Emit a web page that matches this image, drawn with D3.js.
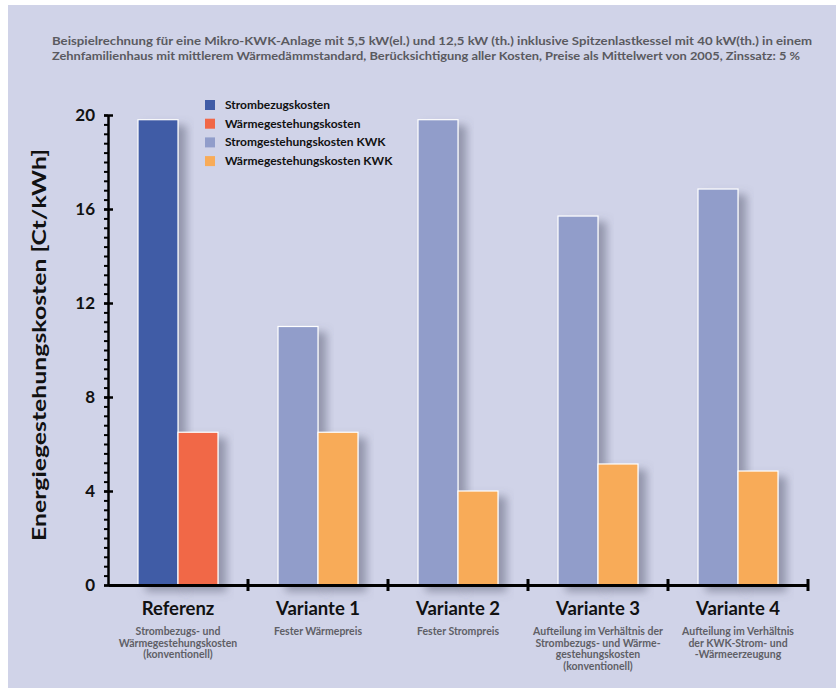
<!DOCTYPE html>
<html>
<head>
<meta charset="utf-8">
<script src="https://cdn.jsdelivr.net/npm/d3@7"></script>
<style>
  body { margin: 0; background: #fff; }
  text { font-family: Lato, "Open Sans", sans-serif; }
</style>
</head>
<body>
<div id="chart"></div>
<script>
const categories = ["Referenz", "Variante 1", "Variante 2", "Variante 3", "Variante 4"];
const subLabels = [
  ["Strombezugs- und", "Wärmegestehungskosten", "(konventionell)"],
  ["Fester Wärmepreis"],
  ["Fester Strompreis"],
  ["Aufteilung im Verhältnis der", "Strombezugs- und Wärme-", "gestehungskosten", "(konventionell)"],
  ["Aufteilung im Verhältnis", "der KWK-Strom- und", "-Wärmeerzeugung"]
];
const stromValues = [19.8, 11.0, 19.8, 15.7, 16.85];
const waermeValues = [6.5, 6.5, 4.0, 5.15, 4.85];
const stromSeries = ["Strombezugskosten", "Stromgestehungskosten KWK", "Stromgestehungskosten KWK", "Stromgestehungskosten KWK", "Stromgestehungskosten KWK"];
const waermeSeries = ["Wärmegestehungskosten", "Wärmegestehungskosten KWK", "Wärmegestehungskosten KWK", "Wärmegestehungskosten KWK", "Wärmegestehungskosten KWK"];
const seriesNames = ["Strombezugskosten", "Wärmegestehungskosten", "Stromgestehungskosten KWK", "Wärmegestehungskosten KWK"];
const seriesColors = ["#3f5ba6", "#f16747", "#919dca", "#f8ab58"];
const yTicks = [0, 4, 8, 12, 16, 20];
const titleLines = [
  "Beispielrechnung für eine Mikro-KWK-Anlage mit 5,5 kW(el.) und 12,5 kW (th.) inklusive Spitzenlastkessel mit 40 kW(th.) in einem",
  "Zehnfamilienhaus mit mittlerem Wärmedämmstandard, Berücksichtigung aller Kosten, Preise als Mittelwert von 2005, Zinssatz: 5 %"
];

const W = 836, H = 688;
const margin = { top: 115, right: 28, bottom: 103, left: 108 };
const width = W - margin.left - margin.right,
      height = H - margin.top - margin.bottom;

const svg = d3.select("#chart").append("svg")
  .attr("width", W).attr("height", H);

// background panel
svg.append("rect").attr("x", 8).attr("y", 5).attr("width", W - 8).attr("height", H - 5)
  .attr("fill", "#d0d3e8");

const defs = svg.append("defs");
const f = defs.append("filter").attr("id", "shadow")
  .attr("x", "-20%").attr("y", "-10%").attr("width", "160%").attr("height", "130%");
f.append("feDropShadow").attr("dx", 8).attr("dy", 6).attr("stdDeviation", 4)
  .attr("flood-color", "#555a70").attr("flood-opacity", 0.5);

// title
svg.append("g").selectAll("text").data(titleLines).join("text")
  .attr("x", 52).attr("y", (d, i) => 45 + i * 14.5)
  .attr("font-size", 11).attr("font-weight", 700).attr("fill", "#5a5a60")
  .attr("textLength", (d, i) => i === 0 ? 760 : 748)
  .attr("lengthAdjust", "spacingAndGlyphs")
  .text(d => d);

const g = svg.append("g").attr("transform", `translate(${margin.left},${margin.top})`);

const x = d3.scaleBand().domain(categories).range([0, width]);
const bw = x.bandwidth();
const x1 = d3.scaleBand().domain(["strom", "waerme"]).range([(bw - 80) / 2, (bw + 80) / 2]);
const y = d3.scaleLinear().domain([0, 20]).range([height, 0]);
const color = d3.scaleOrdinal().domain(seriesNames).range(seriesColors);

const barData = [];
categories.forEach((c, i) => {
  barData.push({ cat: c, key: "strom", value: stromValues[i], series: stromSeries[i] });
  barData.push({ cat: c, key: "waerme", value: waermeValues[i], series: waermeSeries[i] });
});

// bars
g.append("g").selectAll("rect").data(barData).join("rect")
  .attr("x", d => x(d.cat) + x1(d.key))
  .attr("y", d => y(d.value))
  .attr("width", x1.bandwidth())
  .attr("height", d => height - y(d.value))
  .attr("fill", d => color(d.series))
  .attr("stroke", "#fff").attr("stroke-width", 1.2)
  .attr("filter", "url(#shadow)");

// y axis minor ticks
const minor = d3.range(0, 20.01, 0.4);
g.append("g").call(d3.axisLeft(y).tickValues(minor).tickSize(4).tickFormat(""))
  .call(a => a.select(".domain").remove())
  .call(a => a.selectAll("line").attr("stroke", "#000").attr("stroke-width", 2));

// y axis major
const yAxis = g.append("g").call(d3.axisLeft(y).tickValues(yTicks).tickSize(5).tickSizeOuter(0).tickPadding(10));
yAxis.select(".domain").attr("stroke", "#000").attr("stroke-width", 2.5);
yAxis.selectAll(".tick line").attr("stroke", "#000").attr("stroke-width", 2.5).attr("x2", 5).attr("x1", -4);
yAxis.selectAll(".tick text").attr("font-size", 17).attr("font-weight", 700)
  .attr("fill", "#111").attr("font-family", "Lato, sans-serif").attr("x", -13);

// x axis
const xAxis = g.append("g").attr("transform", `translate(0,${height})`)
  .call(d3.axisBottom(x).tickSize(0).tickFormat(""));
xAxis.select(".domain").attr("stroke", "#000").attr("stroke-width", 3);
g.append("g").selectAll("line").data(categories.slice(1).concat(["end"])).join("line")
  .attr("x1", d => d === "end" ? width : x(d))
  .attr("x2", d => d === "end" ? width : x(d))
  .attr("y1", height - 6).attr("y2", height + 6)
  .attr("stroke", "#000").attr("stroke-width", 3);

// category labels
const labs = g.append("g").selectAll("g").data(categories).join("g")
  .attr("transform", d => `translate(${x(d) + bw / 2},${height})`);
labs.append("text").attr("y", 30).attr("text-anchor", "middle")
  .attr("font-size", 18.5).attr("font-weight", 700).attr("fill", "#111")
  .text(d => d);
labs.each(function (d, i) {
  d3.select(this).selectAll("text.sub").data(subLabels[i]).join("text")
    .attr("class", "sub")
    .attr("y", (s, j) => 50 + j * 11.5).attr("text-anchor", "middle")
    .attr("font-size", 10.5).attr("font-weight", 700).attr("fill", "#5f5f66")
    .text(s => s);
});

// y label
svg.append("text")
  .attr("transform", `translate(46,${margin.top + height / 2 - 5}) rotate(-90)`)
  .attr("text-anchor", "middle")
  .attr("font-size", 19).attr("font-weight", 700).attr("fill", "#111")
  .attr("textLength", 392).attr("lengthAdjust", "spacingAndGlyphs")
  .text("Energiegestehungskosten [Ct/kWh]");

// legend
const leg = svg.append("g").selectAll("g").data(seriesNames).join("g")
  .attr("transform", (d, i) => `translate(205,${105 + i * 18.7})`);
leg.append("rect").attr("x", 0).attr("y", -5).attr("width", 10).attr("height", 10)
  .attr("fill", d => color(d));
leg.append("text").attr("x", 20).attr("y", 4)
  .attr("font-size", 12).attr("font-weight", 700).attr("fill", "#111")
  .text(d => d);
</script>
</body>
</html>
